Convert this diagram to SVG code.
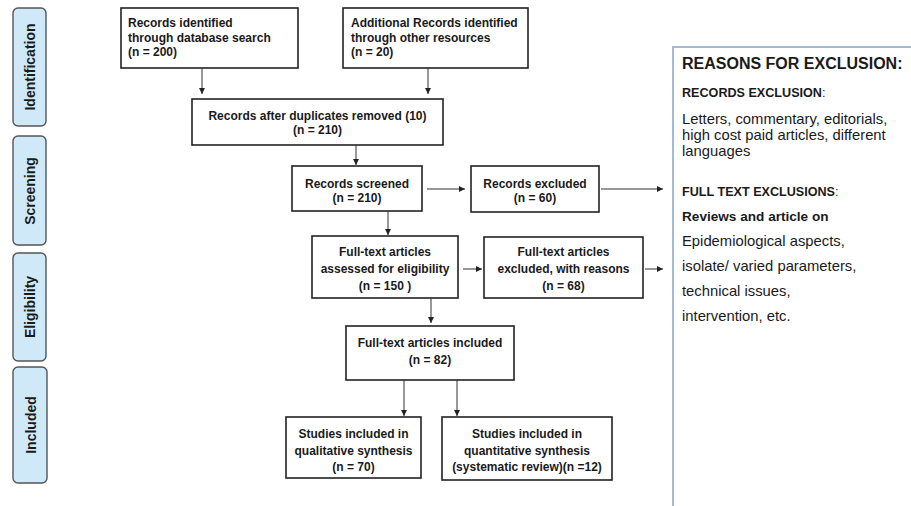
<svg xmlns="http://www.w3.org/2000/svg" width="911" height="506" viewBox="0 0 911 506">
<defs>
<marker id="ah" markerUnits="userSpaceOnUse" markerWidth="7" markerHeight="6" refX="6" refY="3" orient="auto">
<path d="M0,0 L6,3 L0,6 Z" fill="#222"/>
</marker>
<style>
.box{fill:#fff;stroke:#222;stroke-width:1.6}
.side{fill:#cfe9f9;stroke:#555;stroke-width:1.4}
.bt{font-family:"Liberation Sans",Arial,sans-serif;font-weight:bold;font-size:12px;fill:#1a1a1a}
.c{text-anchor:middle}
.st{font-family:"Liberation Sans",Arial,sans-serif;font-weight:bold;font-size:14px;fill:#1a1a1a;text-anchor:middle}
.con line{stroke:#333;stroke-width:1;marker-end:url(#ah)}
.pt{font-family:"Liberation Sans",Arial,sans-serif;font-size:14.8px;fill:#1a1a1a}
.pb{font-weight:bold}
.ph{font-size:16px}
.pc{font-size:12.6px}
.pr{font-size:13.6px}
</style>
</defs>
<rect width="911" height="506" fill="#fff"/>

<g id="side-identification"><rect class="side" x="13" y="8" width="33" height="118" rx="5"/><text class="st" transform="translate(34.5,67) rotate(-90)">Identification</text></g>
<g id="side-screening"><rect class="side" x="13" y="136" width="33" height="109" rx="5"/><text class="st" transform="translate(34.5,191) rotate(-90)">Screening</text></g>
<g id="side-eligibility"><rect class="side" x="13" y="253" width="33" height="108" rx="5"/><text class="st" transform="translate(35,307) rotate(-90)">Eligibility</text></g>
<g id="side-included"><rect class="side" x="13" y="367" width="34" height="116" rx="5"/><text class="st" transform="translate(35.5,425) rotate(-90)">Included</text></g>

<g id="n-db"><rect class="box" x="121" y="8" width="177" height="60"/>
<text class="bt" x="128" y="27">Records identified</text>
<text class="bt" x="128" y="41.5">through database search</text>
<text class="bt" x="128" y="56">(n = 200)</text></g>

<g id="n-other"><rect class="box" x="343" y="8" width="185" height="60"/>
<text class="bt" x="351" y="27">Additional Records identified</text>
<text class="bt" x="351" y="41.5">through other resources</text>
<text class="bt" x="351" y="56">(n = 20)</text></g>

<g id="n-dup"><rect class="box" x="192" y="99" width="251" height="46"/>
<text class="bt c" x="317.5" y="120">Records after duplicates removed (10)</text>
<text class="bt c" x="317.5" y="134">(n = 210)</text></g>

<g id="n-screened"><rect class="box" x="292" y="166" width="130" height="45"/>
<text class="bt c" x="357" y="188">Records screened</text>
<text class="bt c" x="357" y="202">(n = 210)</text></g>

<g id="n-excluded"><rect class="box" x="471" y="166" width="128" height="46"/>
<text class="bt c" x="535" y="188">Records excluded</text>
<text class="bt c" x="535" y="202">(n = 60)</text></g>

<g id="n-assessed"><rect class="box" x="312" y="236" width="146" height="62"/>
<text class="bt c" x="385" y="256">Full-text articles</text>
<text class="bt c" x="385" y="273">assessed for eligibility</text>
<text class="bt c" x="385" y="290">(n =  150 )</text></g>

<g id="n-ftexcluded"><rect class="box" x="484" y="237" width="159" height="61"/>
<text class="bt c" x="563.5" y="256">Full-text articles</text>
<text class="bt c" x="563.5" y="273">excluded, with reasons</text>
<text class="bt c" x="563.5" y="290">(n = 68)</text></g>

<g id="n-included"><rect class="box" x="346" y="326" width="168" height="54"/>
<text class="bt c" x="430" y="347">Full-text articles included</text>
<text class="bt c" x="430" y="364">(n = 82)</text></g>

<g id="n-qual"><rect class="box" x="286" y="417" width="135" height="61"/>
<text class="bt c" x="353.5" y="438">Studies included in</text>
<text class="bt c" x="353.5" y="455">qualitative synthesis</text>
<text class="bt c" x="353.5" y="471">(n = 70)</text></g>

<g id="n-quant"><rect class="box" x="442" y="417" width="170" height="63"/>
<text class="bt c" x="527" y="438">Studies included in</text>
<text class="bt c" x="527" y="455">quantitative synthesis</text>
<text class="bt c" x="527" y="471">(systematic review)(n =12)</text></g>

<g id="n-reasons">
<rect x="673" y="47" width="260" height="480" fill="#fff" stroke="#a3bcd6" stroke-width="2"/>
<text class="pt pb ph" x="682" y="69">REASONS FOR EXCLUSION:</text>
<text class="pt pc" x="682" y="97"><tspan class="pb">RECORDS EXCLUSION</tspan>:</text>
<text class="pt" x="682" y="124">Letters, commentary, editorials,</text>
<text class="pt" x="682" y="140">high cost paid articles, different</text>
<text class="pt" x="682" y="156">languages</text>
<text class="pt pc" x="682" y="196"><tspan class="pb">FULL TEXT EXCLUSIONS</tspan>:</text>
<text class="pt pb pr" x="682" y="221">Reviews and article on</text>
<text class="pt" x="682" y="246">Epidemiological aspects,</text>
<text class="pt" x="682" y="271">isolate/ varied parameters,</text>
<text class="pt" x="682" y="296">technical issues,</text>
<text class="pt" x="682" y="321">intervention, etc.</text>
</g>

<g id="connectors" class="con">
<line x1="202" y1="68" x2="202" y2="94"/>
<line x1="428" y1="68" x2="428" y2="94"/>
<line x1="356" y1="145" x2="356" y2="165"/>
<line x1="427" y1="189" x2="465" y2="189"/>
<line x1="601" y1="189" x2="663" y2="189"/>
<line x1="388" y1="211" x2="388" y2="235"/>
<line x1="463" y1="269" x2="482" y2="269"/>
<line x1="645" y1="269" x2="663" y2="269"/>
<line x1="431" y1="298" x2="431" y2="323"/>
<line x1="404" y1="380" x2="404" y2="416"/>
<line x1="457" y1="380" x2="457" y2="416"/>
</g>
</svg>
